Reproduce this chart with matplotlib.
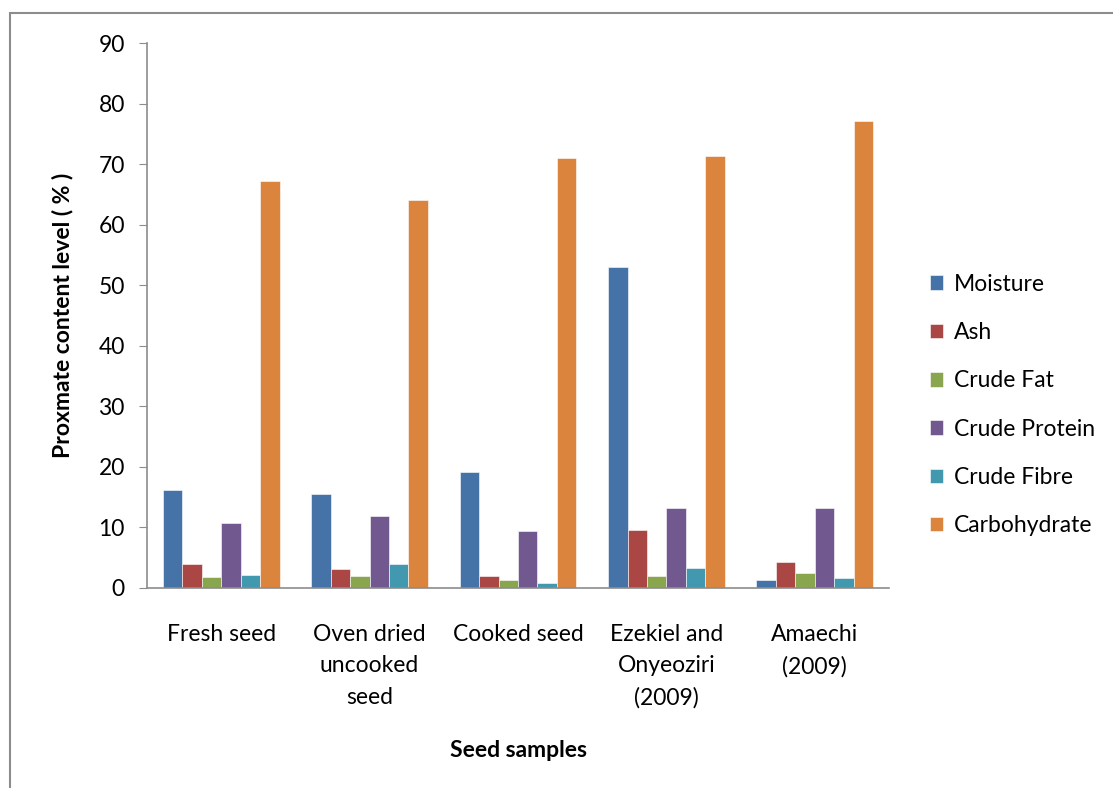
import numpy as np
import matplotlib.pyplot as plt
from matplotlib.patches import Rectangle

# Data
samples = ["Fresh seed", "Oven dried\nuncooked\nseed", "Cooked seed",
           "Ezekiel and\nOnyeoziri\n(2009)", "Amaechi\n(2009)"]
components = ["Moisture", "Ash", "Crude Fat", "Crude Protein", "Crude Fibre", "Carbohydrate"]
moisture = [16.2, 15.5, 19.1, 53.0, 1.3]
ash = [3.9, 3.1, 2.0, 9.6, 4.3]
crude_fat = [1.8, 1.9, 1.3, 2.0, 2.4]
crude_protein = [10.8, 11.9, 9.4, 13.2, 13.2]
crude_fibre = [2.1, 3.9, 0.9, 3.3, 1.6]
carbohydrate = [67.2, 64.0, 71.0, 71.3, 77.1]
colors = ["#4572A7", "#AA4643", "#89A54E", "#71588F", "#4198AF", "#DB843D"]

plt.rcParams['font.family'] = ['Lato', 'DejaVu Sans']
FS = 16.5

W, H = 1113, 788
fig = plt.figure(figsize=(W / 100, H / 100), dpi=100)
# outer chart frame
fig.patches.append(Rectangle((10 / W, -0.05), 1.1, (788 - 13) / H + 0.05,
                             transform=fig.transFigure, fill=False,
                             edgecolor="#8c8c8c", linewidth=1.5))

ax = fig.add_axes([147 / W, (H - 588) / H, (889 - 147) / W, (588 - 43) / H])

series = [moisture, ash, crude_fat, crude_protein, crude_fibre, carbohydrate]
x = np.arange(len(samples))
bw = 0.131
for i, (name, vals) in enumerate(zip(components, series)):
    ax.bar(x + (i - 2.5) * bw, vals, bw, color=colors[i], label=name,
           edgecolor="white", linewidth=0.4)

ax.set_xlim(-0.5, len(samples) - 0.5)
ax.set_ylim(0, 90)
ax.set_yticks(range(0, 91, 10))
ax.set_xticks(x)
ax.set_xticklabels(samples, fontsize=FS, linespacing=1.6)
ax.tick_params(axis='x', length=0, pad=26)
ax.tick_params(axis='y', labelsize=FS, length=6, color="#8c8c8c", pad=10)
for s in ["top", "right"]:
    ax.spines[s].set_visible(False)
for s in ["left", "bottom"]:
    ax.spines[s].set_color("#8c8c8c")
    ax.spines[s].set_linewidth(1.2)

ax.set_ylabel("Proxmate content level ( % )", fontsize=FS, fontweight="bold", labelpad=18)
ax.set_xlabel("Seed samples", fontsize=FS, fontweight="bold", labelpad=23)

ax.legend(loc="center left", bbox_to_anchor=(909 / W, (H - 405) / H),
          bbox_transform=fig.transFigure, frameon=False, fontsize=FS,
          handlelength=0.6, handleheight=0.6, labelspacing=1.19, handletextpad=0.45)

fig.savefig("out.png", dpi=100)
